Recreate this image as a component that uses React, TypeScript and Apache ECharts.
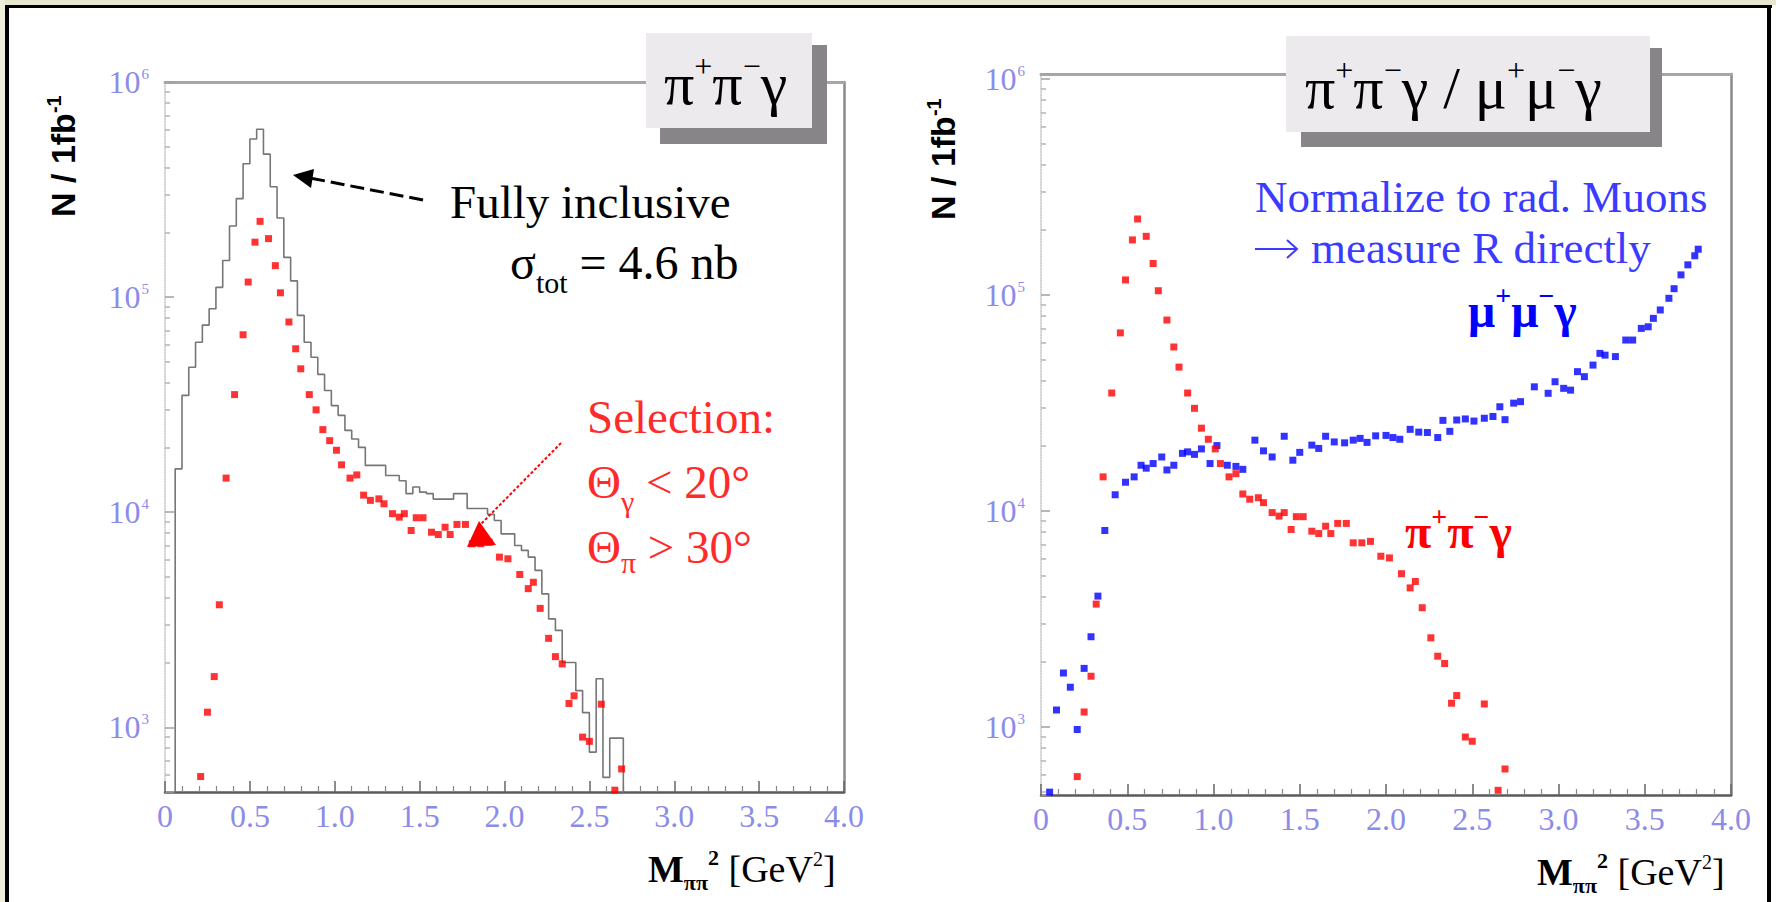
import React, { useEffect, useRef } from 'react';
import * as echarts from 'echarts';

// ---------------- data ----------------
// Fully inclusive pi+pi-gamma spectrum, 0.04 GeV^2 bins starting at 0.06 GeV^2 (events / 1 fb^-1)
const histStart = 0.06;
const histBinWidth = 0.04;
const inclusiveCounts = [
  15900, 34900, 47200, 61700, 74100, 88300, 111000, 148000, 214000, 287000,
  417000, 543000, 603000, 462000, 326000, 233000, 153000, 119000, 82200, 61700,
  52500, 43700, 36800, 31300, 28200, 24000, 21900, 20000, 16500, 16500,
  16500, 14800, 14800, 14000, 12200, 13100, 12400, 12200, 11500, 11500,
  11500, 12200, 12200, 10400, 10400, 10400, 9770, 9140, 7930, 7930,
  7000, 6640, 6180, 5360, 4170, 3190, 2820, 2000, 2000, 1480,
  1170, 766, 1680, 585, 890, 890,
];

// Selected pi+pi-gamma events (theta_gamma < 20 deg, theta_pi > 30 deg)
const pipiM2 = [
  0.21, 0.25, 0.29, 0.32, 0.36, 0.41, 0.46, 0.49, 0.53, 0.56,
  0.61, 0.65, 0.68, 0.73, 0.77, 0.80, 0.85, 0.89, 0.93, 0.97,
  1.01, 1.04, 1.09, 1.13, 1.17, 1.21, 1.26, 1.29, 1.34, 1.38,
  1.41, 1.45, 1.48, 1.52, 1.57, 1.61, 1.65, 1.68, 1.72, 1.77,
  1.81, 1.86, 1.91, 1.97, 2.02, 2.09, 2.14, 2.17, 2.21, 2.26,
  2.30, 2.34, 2.38, 2.41, 2.46, 2.50, 2.57, 2.65, 2.69,
];
const pipiN = [
  590, 1175, 1720, 3710, 14400, 35200, 66800, 117500, 180000, 225000,
  187000, 140000, 104700, 76600, 57500, 46400, 35200, 29900, 24200, 21500,
  19400, 16600, 14400, 14900, 12000, 11350, 11530, 10940, 9840, 9480,
  9840, 8220, 9420, 9420, 8070, 7870, 8510, 7870, 8770, 8770,
  7130, 7130, 7240, 6180, 6070, 5130, 4410, 4720, 3570, 2590,
  2130, 1970, 1290, 1400, 900, 860, 1280, 510, 640,
];

// Radiative muon pairs mu+mu-gamma
const mumuM2 = [
  0.05, 0.09, 0.13, 0.17, 0.21, 0.25, 0.29, 0.33, 0.37, 0.43,
  0.49, 0.54, 0.58, 0.61, 0.65, 0.70, 0.73, 0.77, 0.82, 0.85,
  0.89, 0.93, 0.98, 1.02, 1.08, 1.13, 1.17, 1.24, 1.29, 1.34,
  1.41, 1.46, 1.50, 1.57, 1.61, 1.65, 1.70, 1.76, 1.81, 1.85,
  1.89, 1.94, 2.00, 2.04, 2.08, 2.14, 2.19, 2.24, 2.30, 2.33,
  2.37, 2.41, 2.46, 2.51, 2.57, 2.62, 2.66, 2.69, 2.74, 2.78,
  2.86, 2.94, 2.98, 3.03, 3.07, 3.11, 3.15, 3.20, 3.24, 3.27,
  3.33, 3.39, 3.43, 3.48, 3.52, 3.55, 3.59, 3.64, 3.67, 3.71,
  3.75, 3.79, 3.81,
];
const mumuN = [
  500, 1200, 1780, 1530, 975, 1870, 2620, 4040, 8130, 11900,
  13600, 14400, 16300, 15800, 16600, 17800, 15500, 16300, 18500, 18800,
  18300, 19400, 16600, 20100, 16300, 16100, 15600, 21300, 19000, 17800,
  22200, 17200, 18700, 20200, 19500, 22200, 20900, 20700, 21300, 21700,
  20800, 22300, 22400, 21900, 21500, 23900, 23200, 23100, 21900, 26300,
  23400, 26400, 26700, 26100, 26900, 27400, 30400, 26500, 31600, 32100,
  37600, 35100, 39700, 37000, 36300, 44200, 41900, 47400, 53700, 52700,
  51900, 61900, 61900, 70100, 71300, 78000, 85300, 96600, 107000, 124000,
  138000, 152000, 163000,
];

// ---------------- style ----------------
const W = 1776;
const H = 902;
const SERIF = 'Liberation Serif, Times New Roman, serif';
const SANS = 'Liberation Sans, Arial, sans-serif';
const TICK_BLUE = '#8c8ce8';
const NOTE_RED = '#ff2a2a';
const NOTE_BLUE = '#3b3bff';

type Piece = { text: string; size: number; dy?: number; bold?: boolean };

let measureCtx: CanvasRenderingContext2D | null = null;
function textWidth(p: Piece, family: string) {
  if (!measureCtx) measureCtx = document.createElement('canvas').getContext('2d');
  measureCtx!.font = `${p.bold ? 'bold ' : ''}${p.size}px ${family}`;
  return measureCtx!.measureText(p.text).width;
}

// Lay out a line of text pieces (with sub/superscripts) along a baseline.
function textRun(x0: number, baseline: number, pieces: Piece[], color: string, family = SERIF, z = 10) {
  const central = family === SANS ? 0.3465 : 0.3375;
  let x = x0;
  return pieces.map((p) => {
    const el = {
      type: 'text',
      x,
      y: baseline + (p.dy || 0) - central * p.size,
      z,
      silent: true,
      style: {
        text: p.text,
        fontSize: p.size,
        fontFamily: family,
        fontWeight: p.bold ? 'bold' : 'normal',
        fill: color,
        align: 'left',
        verticalAlign: 'middle',
      },
    };
    x += textWidth(p, family);
    return el;
  });
}

function decadeLabel(v: number) {
  const e = Math.log10(v);
  const r = Math.round(e);
  if (Math.abs(e - r) > 1e-6) return '';
  return `{b|10}{s|${r}}`;
}

const panels = [
  { grid: { left: 165, top: 82, width: 679, height: 710 }, yMin: 500, yMax: 1e6 },
  { grid: { left: 1041, top: 74, width: 690, height: 721 }, yMin: 485, yMax: 1.055e6 },
];

function buildOption() {
  const histLine: number[][] = [[histStart, 100]];
  inclusiveCounts.forEach((c, i) => histLine.push([+(histStart + i * histBinWidth).toFixed(3), c]));
  const histEnd = +(histStart + inclusiveCounts.length * histBinWidth).toFixed(3);
  histLine.push([histEnd, inclusiveCounts[inclusiveCounts.length - 1]]);
  histLine.push([histEnd, 100]);

  const pipi = pipiM2.map((x, i) => [x, pipiN[i]]);
  const mumu = mumuM2.map((x, i) => [x, mumuN[i]]);

  const xAxis: any[] = [];
  const yAxis: any[] = [];
  panels.forEach((p, i) => {
    xAxis.push({
      gridIndex: i, type: 'value', min: 0, max: 4, interval: 0.5, position: 'bottom',
      axisLine: { show: true, onZero: false, lineStyle: { color: '#5a5a5a', width: 2.5 } },
      axisTick: { show: true, inside: true, length: 11, lineStyle: { color: '#666', width: 1.5 } },
      minorTick: { show: true, splitNumber: 5, length: 6, lineStyle: { color: '#888', width: 1.2 } },
      axisLabel: {
        show: true, color: TICK_BLUE, fontFamily: SERIF, fontSize: 32, margin: 8,
        showMinLabel: true, showMaxLabel: true, hideOverlap: false,
        formatter: (v: number) => (v === 0 ? '0' : v.toFixed(1)),
      },
      splitLine: { show: false },
    });
    xAxis.push({
      gridIndex: i, type: 'value', min: 0, max: 4, position: 'top',
      axisLine: { show: true, onZero: false, lineStyle: { color: '#a6a6a6', width: 3 } },
      axisTick: { show: false }, axisLabel: { show: false }, splitLine: { show: false },
    });

    const minor: number[] = [];
    for (let d = 100; d <= 100000; d *= 10) for (let m = 2; m <= 9; m++) {
      const v = m * d;
      if (v > p.yMin && v < p.yMax) minor.push(v);
    }
    yAxis.push({
      gridIndex: i, type: 'log', logBase: 10, min: p.yMin, max: p.yMax, position: 'left',
      axisLine: { show: true, onZero: false, lineStyle: { color: '#c6c6c6', width: 1.5, type: 'dotted' } },
      axisTick: { show: true, inside: true, length: 9, lineStyle: { color: '#a0a0a0', width: 1.5 } },
      axisLabel: {
        show: true, margin: 16, formatter: decadeLabel, showMinLabel: true, showMaxLabel: true, hideOverlap: false,
        rich: {
          b: { fontSize: 32, fontFamily: SERIF, color: TICK_BLUE },
          s: { fontSize: 15, fontFamily: SERIF, color: TICK_BLUE, verticalAlign: 'top', padding: [0, 0, 0, 1] },
        },
      },
      splitLine: { show: false },
    });
    yAxis.push({
      gridIndex: i, type: 'log', logBase: 10, min: p.yMin, max: p.yMax, position: 'left',
      axisLine: { show: false },
      axisTick: { show: true, inside: true, length: 5, customValues: minor, lineStyle: { color: '#b4b4b4', width: 1.5 } },
      axisLabel: { show: false }, splitLine: { show: false },
    });
    yAxis.push({
      gridIndex: i, type: 'log', logBase: 10, min: p.yMin, max: p.yMax, position: 'right',
      axisLine: { show: true, onZero: false, lineStyle: { color: '#8a8a8a', width: 2.5 } },
      axisTick: { show: false }, axisLabel: { show: false }, splitLine: { show: false },
    });
  });

  const dot = (color: string) => ({ symbol: 'rect', symbolSize: 7, itemStyle: { color } });

  const series: any[] = [
    {
      type: 'line', xAxisIndex: 0, yAxisIndex: 0, data: histLine, step: 'end',
      symbol: 'none', showSymbol: false, clip: true,
      lineStyle: { color: '#767676', width: 1.6 }, z: 2,
    },
    { type: 'scatter', xAxisIndex: 0, yAxisIndex: 0, data: pipi, clip: true, z: 3, ...dot('#ff0000') },
    { type: 'scatter', xAxisIndex: 2, yAxisIndex: 3, data: mumu, clip: true, z: 3, ...dot('#0000ff') },
    { type: 'scatter', xAxisIndex: 2, yAxisIndex: 3, data: pipi, clip: true, z: 4, ...dot('#ff0000') },
  ];

  const axisTitle = (gx: number, gy: number) => ({
    type: 'group', x: gx, y: gy, rotation: Math.PI / 2, silent: true,
    children: textRun(0, 0, [
      { text: 'N / 1fb', size: 34, bold: true },
      { text: '-1', size: 20, bold: true, dy: -14 },
    ], '#000', SANS),
  });

  const massTitle = (x: number, baseline: number) => textRun(x, baseline, [
    { text: 'M', size: 38, bold: true },
    { text: 'ππ', size: 22, bold: true, dy: 8 },
    { text: '2', size: 22, bold: true, dy: -17 },
    { text: ' [GeV', size: 38 },
    { text: '2', size: 20, dy: -16 },
    { text: ']', size: 38 },
  ], '#000');

  const graphic: any[] = [
    // page frame
    { type: 'rect', z: 0, silent: true, shape: { x: 0, y: 0, width: W, height: 5 }, style: { fill: '#e7e7cf' } },
    { type: 'rect', z: 0, silent: true, shape: { x: 0, y: 0, width: 5, height: H }, style: { fill: '#eeeed9' } },
    { type: 'rect', z: 1, silent: true, shape: { x: 5, y: 5, width: 1767, height: 3 }, style: { fill: '#000' } },
    { type: 'rect', z: 1, silent: true, shape: { x: 5, y: 5, width: 4, height: H - 5 }, style: { fill: '#000' } },
    { type: 'rect', z: 1, silent: true, shape: { x: 1767, y: 5, width: 4, height: H - 5 }, style: { fill: '#000' } },

    // title boxes with drop shadow
    { type: 'rect', z: 5, silent: true, shape: { x: 660, y: 45, width: 167, height: 99 }, style: { fill: '#878587' } },
    { type: 'rect', z: 6, silent: true, shape: { x: 646, y: 33, width: 166, height: 95 }, style: { fill: '#edeaed' } },
    { type: 'rect', z: 5, silent: true, shape: { x: 1301, y: 48, width: 361, height: 99 }, style: { fill: '#878587' } },
    { type: 'rect', z: 6, silent: true, shape: { x: 1286, y: 36, width: 364, height: 96 }, style: { fill: '#edeaed' } },
    ...textRun(664, 104, [
      { text: 'π', size: 60 }, { text: '+', size: 32, dy: -27 },
      { text: 'π', size: 60 }, { text: '−', size: 32, dy: -27 },
      { text: 'γ', size: 60 },
    ], '#000'),
    ...textRun(1305, 108, [
      { text: 'π', size: 60 }, { text: '+', size: 32, dy: -27 },
      { text: 'π', size: 60 }, { text: '−', size: 32, dy: -27 },
      { text: 'γ', size: 60 }, { text: ' / ', size: 60 },
      { text: 'μ', size: 60 }, { text: '+', size: 32, dy: -27 },
      { text: 'μ', size: 60 }, { text: '−', size: 32, dy: -27 },
      { text: 'γ', size: 60 },
    ], '#000'),

    // axis titles
    axisTitle(75, 217),
    axisTitle(955, 220),
    ...massTitle(648, 882),
    ...massTitle(1537, 885),

    // left panel notes
    ...textRun(450, 218, [{ text: 'Fully inclusive', size: 47 }], '#000'),
    ...textRun(510, 279, [
      { text: 'σ', size: 48 }, { text: 'tot', size: 30, dy: 14 }, { text: ' = 4.6 nb', size: 48 },
    ], '#000'),
    { type: 'line', z: 10, silent: true, shape: { x1: 423, y1: 200, x2: 310, y2: 178 }, style: { stroke: '#000', lineWidth: 3, lineDash: [14, 6] } },
    { type: 'polygon', z: 10, silent: true, shape: { points: [[293, 175], [314, 169], [311, 188]] }, style: { fill: '#000' } },

    ...textRun(587, 433, [{ text: 'Selection:', size: 47 }], NOTE_RED),
    ...textRun(587, 498, [
      { text: 'Θ', size: 47 }, { text: 'γ', size: 30, dy: 14 }, { text: ' < 20°', size: 47 },
    ], NOTE_RED),
    ...textRun(587, 563, [
      { text: 'Θ', size: 47 }, { text: 'π', size: 30, dy: 10 }, { text: ' > 30°', size: 47 },
    ], NOTE_RED),
    { type: 'line', z: 10, silent: true, shape: { x1: 561, y1: 443, x2: 481, y2: 524 }, style: { stroke: '#ff0000', lineWidth: 2, lineDash: [3, 2] } },
    { type: 'polygon', z: 10, silent: true, shape: { points: [[479, 521], [467, 547], [496, 545]] }, style: { fill: '#ff0000' } },

    // right panel notes
    ...textRun(1255, 212, [{ text: 'Normalize to rad. Muons', size: 45 }], NOTE_BLUE),
    { type: 'line', z: 10, silent: true, shape: { x1: 1255, y1: 249, x2: 1297, y2: 249 }, style: { stroke: NOTE_BLUE, lineWidth: 2 } },
    { type: 'polyline', z: 10, silent: true, shape: { points: [[1287, 240], [1297, 249], [1287, 258]] }, style: { stroke: NOTE_BLUE, lineWidth: 2, fill: 'none' } },
    ...textRun(1311, 263, [{ text: 'measure R directly', size: 45 }], NOTE_BLUE),
    ...textRun(1468, 327, [
      { text: 'μ', size: 48, bold: true }, { text: '+', size: 28, bold: true, dy: -22 },
      { text: 'μ', size: 48, bold: true }, { text: '−', size: 28, bold: true, dy: -22 },
      { text: 'γ', size: 48, bold: true },
    ], '#0000ff'),
    ...textRun(1405, 548, [
      { text: 'π', size: 48, bold: true }, { text: '+', size: 28, bold: true, dy: -22 },
      { text: 'π', size: 48, bold: true }, { text: '−', size: 28, bold: true, dy: -22 },
      { text: 'γ', size: 48, bold: true },
    ], '#ff0000'),
  ];

  return {
    animation: false,
    backgroundColor: '#ffffff',
    grid: panels.map((p) => ({ ...p.grid, show: false, containLabel: false, outerBoundsMode: 'none' })),
    xAxis,
    yAxis,
    series,
    graphic: { elements: graphic },
  };
}

export default function App() {
  const ref = useRef<HTMLDivElement>(null);
  useEffect(() => {
    if (!ref.current) return;
    const chart = echarts.init(ref.current, undefined, { renderer: 'svg', width: W, height: H });
    chart.setOption(buildOption() as any);
    return () => chart.dispose();
  }, []);
  return (
    <div
      ref={ref}
      style={{ position: 'fixed', left: 0, top: 0, width: W, height: H, background: '#fff' }}
    />
  );
}
